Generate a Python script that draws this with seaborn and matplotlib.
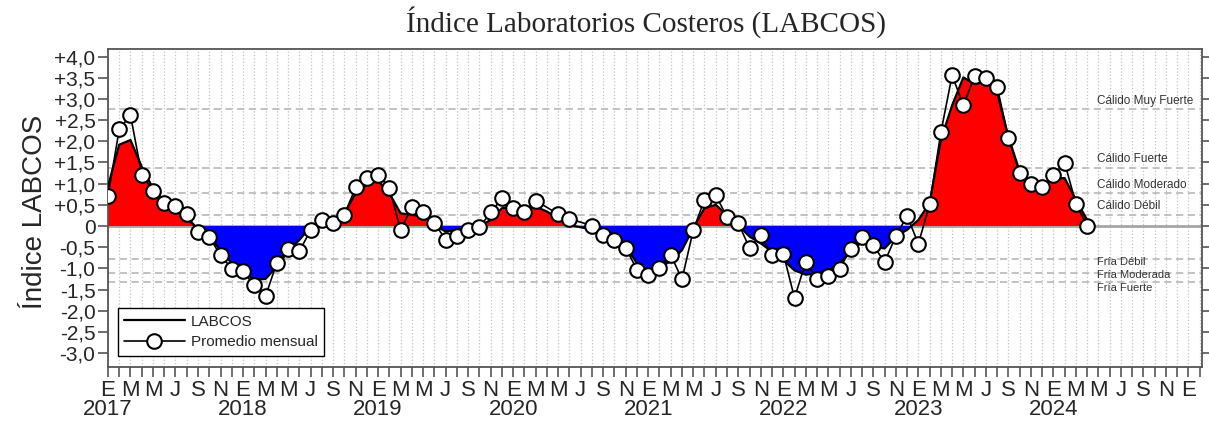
# %%
import numpy as np
import pandas as pd
import matplotlib
matplotlib.use("Agg")
import matplotlib.pyplot as plt
import seaborn as sns

# %%
# Datos (ene 2017 - abr 2024)
anios = [2017, 2018, 2019, 2020, 2021, 2022, 2023, 2024]
iniciales = ["E", "F", "M", "A", "M", "J", "J", "A", "S", "O", "N", "D"]

labcos = [0.93, 1.92, 2.03, 1.40, 0.89, 0.58, 0.42, 0.18, -0.06, -0.25, -0.57, -0.88,
          -1.08, -1.27, -1.25, -0.96, -0.60, -0.33, -0.02, 0.00, 0.02, 0.30, 0.77, 0.97,
          1.07, 0.77, 0.30, 0.26, 0.24, 0.02, -0.13, -0.10, -0.02, 0.00, 0.14, 0.42,
          0.46, 0.42, 0.46, 0.34, 0.18, 0.02, -0.03, -0.08, -0.17, -0.25, -0.49, -0.88,
          -1.04, -0.96, -0.84, -0.57, -0.05, 0.42, 0.50, 0.26, 0.02, -0.25, -0.41, -0.61,
          -0.80, -1.05, -1.15, -1.12, -1.05, -0.88, -0.61, -0.37, -0.49, -0.53, -0.25, -0.09,
          0.14, 0.54, 2.03, 2.85, 3.51, 3.35, 3.42, 3.15, 2.11, 1.29, 1.01, 0.97,
          1.13, 1.13, 0.62, 0.14]

promedio = [0.71, 2.28, 2.62, 1.21, 0.83, 0.55, 0.47, 0.28, -0.13, -0.26, -0.69, -1.01,
            -1.07, -1.40, -1.66, -0.87, -0.54, -0.60, -0.10, 0.15, 0.08, 0.26, 0.91, 1.13,
            1.21, 0.90, -0.09, 0.44, 0.34, 0.07, -0.32, -0.24, -0.09, -0.03, 0.32, 0.65,
            0.42, 0.33, 0.60, np.nan, 0.28, 0.17, np.nan, 0.01, -0.22, -0.32, -0.52, -1.03,
            -1.15, -0.99, -0.68, -1.26, -0.10, 0.62, 0.73, 0.21, 0.07, -0.52, -0.22, -0.68,
            -0.65, -1.70, -0.84, -1.25, -1.17, -1.01, -0.54, -0.26, -0.46, -0.85, -0.24, 0.24,
            -0.42, 0.51, 2.21, 3.56, 2.85, 3.54, 3.49, 3.29, 2.08, 1.24, 0.99, 0.91,
            1.20, 1.49, 0.53, 0.00]

# Umbrales de clasificacion
umbrales = [2.76, 1.37, 0.77, 0.27, -0.79, -1.10, -1.32]
umbral_txt = ["Cálido Muy Fuerte", "Cálido Fuerte", "Cálido Moderado", "Cálido Débil",
              "Fría Débil", "Fría Moderada", "Fría Fuerte"]

df = pd.DataFrame({"mes": np.arange(len(labcos)), "labcos": labcos, "promedio": promedio})

# %%
sns.set_style("white")
plt.rcParams["font.family"] = ["Liberation Sans", "DejaVu Sans"]

fig, ax = plt.subplots(figsize=(12.09, 4.28), dpi=100)
fig.subplots_adjust(left=0.0893, right=0.9942, bottom=0.1425, top=0.8855)

n_ticks = 98
ax.set_xlim(0, 97.2)
ax.set_ylim(-3.33, 4.18)

# rejilla vertical mensual
ax.set_xticks(np.arange(n_ticks))
ax.grid(axis="x", ls=":", color="#c4c4c4", lw=0.9)
ax.grid(axis="y", visible=False)
ax.set_axisbelow(True)

for v in umbrales:
    ax.axhline(v, ls=(0, (4, 2.5)), color="#bdbdbd", lw=1.3, zorder=1)
ax.axhline(0, color="#a6a6a6", lw=2, zorder=1)

x = df["mes"].values
y = df["labcos"].values
ax.fill_between(x, y, 0, where=y >= 0, color="#ff0000", interpolate=True, lw=0, zorder=2)
ax.fill_between(x, y, 0, where=y <= 0, color="#0000ff", interpolate=True, lw=0, zorder=2)

sns.lineplot(data=df, x="mes", y="labcos", color="black", lw=1.6, ax=ax,
             label="LABCOS", zorder=3)
sns.lineplot(data=df, x="mes", y="promedio", color="black", lw=1.2, marker="o",
             markersize=10.5, markerfacecolor="white", markeredgecolor="black",
             markeredgewidth=1.5, ax=ax, label="Promedio mensual", zorder=4)

# textos de umbrales (calidos encima de la linea, frios apilados debajo)
for v, t in zip(umbrales[:4], umbral_txt[:4]):
    ax.text(87.9, v + 0.06, t, fontsize=8.5, color="#333333",
            ha="left", va="bottom", zorder=5)
for k, t in enumerate(umbral_txt[4:]):
    ax.text(87.9, umbrales[4] + 0.05 - 0.305 * k, t, fontsize=8, color="#333333",
            ha="left", va="top", zorder=5)

# ejes: iniciales de mes cada 2 meses, anio debajo de enero
etiquetas = [iniciales[i % 12] if i % 2 == 0 else "" for i in range(n_ticks)]
ax.set_xticklabels(etiquetas, fontsize=16)
for k, a in enumerate(anios):
    ax.text(12 * k, -0.135, str(a), transform=ax.get_xaxis_transform(),
            fontsize=16, ha="center", va="center")

yt = np.arange(-3.0, 4.01, 0.5)
ax.set_yticks(yt)
ax.set_yticklabels(["0" if abs(v) < 1e-9 else f"{v:+.1f}".replace(".", ",") for v in yt],
                   fontsize=15)

ax.tick_params(axis="x", which="both", bottom=True, direction="out", length=7,
               width=1.2, color="#555555", pad=2)
ax.tick_params(axis="y", which="both", left=True, right=True, direction="out",
               length=7, width=1.2, color="#555555", pad=2)

for s in ax.spines.values():
    s.set_color("#555555")
    s.set_linewidth(1.3)

ax.set_xlabel("")
ax.set_ylabel("")
fig.text(35 / 1209, 0.505, "Índice LABCOS", rotation=90, fontsize=20,
         ha="center", va="center")
fig.text(0.534, 0.948, "Índice Laboratorios Costeros (LABCOS)", fontsize=21,
         family=["Liberation Serif", "DejaVu Serif"], ha="center", va="center")

leg = ax.legend(loc="lower left", bbox_to_anchor=(0.002, 0.012), fontsize=11,
                handlelength=4.0, handletextpad=0.4, frameon=True, fancybox=False,
                framealpha=1, borderpad=0.4, labelspacing=0.45)
leg.get_frame().set_edgecolor("black")
leg.get_frame().set_linewidth(1.0)

plt.savefig("out.png", dpi=100)
